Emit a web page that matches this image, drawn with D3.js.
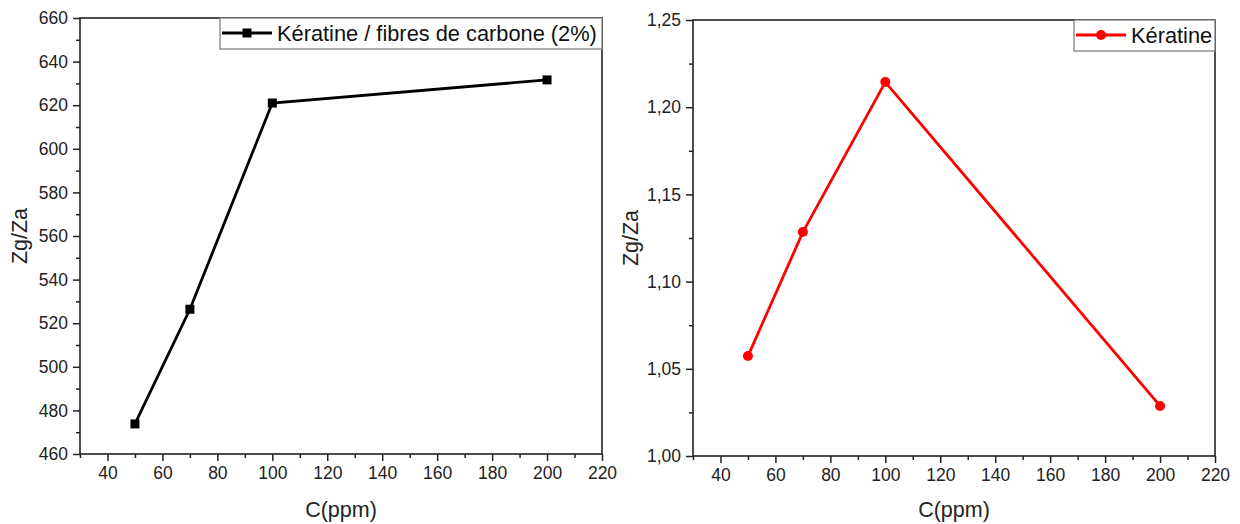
<!DOCTYPE html>
<html>
<head>
<meta charset="utf-8">
<script src="https://cdn.jsdelivr.net/npm/d3@7"></script>
<style>
  body { margin: 0; background: #fff; }
  svg { font-family: 'Liberation Sans', Arial, sans-serif; }
  .axis text { font-size: 17.5px; fill: #222; }
  .axis path { display: none; }
  .axis line { stroke: #222; stroke-width: 1.5; }
</style>
</head>
<body>
<div id="chart"></div>
<script>
// data
var concentrations = [50, 70, 100, 200]
var carbonValues = [473.8, 526.4, 621.0, 631.6]
var keratinValues = [1.0573, 1.1284, 1.2144, 1.0287]

var xMajorTicks = [40, 60, 80, 100, 120, 140, 160, 180, 200, 220]
var xMinorTicks = [30, 50, 70, 90, 110, 130, 150, 170, 190, 210]
var yLeftMajor = [460, 480, 500, 520, 540, 560, 580, 600, 620, 640, 660]
var yLeftMinor = [470, 490, 510, 530, 550, 570, 590, 610, 630, 650]
var yRightMajor = [1.0, 1.05, 1.1, 1.15, 1.2, 1.25]
var yRightMinor = [1.025, 1.075, 1.125, 1.175, 1.225]

var legendCarbon = 'Kératine / fibres de carbone (2%)'
var legendKeratin = 'Kératine'

var svg = d3.select('#chart')
  .append('svg')
  .attr('width', 1240)
  .attr('height', 524)

var frLocale = d3.formatLocale({ decimal: ',', thousands: ' ', grouping: [3], currency: ['', '€'] })

function drawPanel(opts) {
  var x = d3.scaleLinear().domain([30, 220]).range([opts.left, opts.right])
  var y = d3.scaleLinear().domain(opts.yDomain).range([opts.bottom, opts.top])

  var g = svg.append('g')

  // minor ticks
  g.append('g')
    .attr('class', 'axis')
    .attr('transform', 'translate(0,' + opts.bottom + ')')
    .call(d3.axisBottom(x).tickValues(xMinorTicks).tickSize(4).tickFormat(''))
  g.append('g')
    .attr('class', 'axis')
    .attr('transform', 'translate(' + opts.left + ',0)')
    .call(d3.axisLeft(y).tickValues(opts.yMinor).tickSize(4).tickFormat(''))

  // major ticks
  g.append('g')
    .attr('class', 'axis')
    .attr('transform', 'translate(0,' + opts.bottom + ')')
    .call(d3.axisBottom(x).tickValues(xMajorTicks).tickSize(7).tickPadding(6).tickFormat(d3.format('d')))
  g.append('g')
    .attr('class', 'axis')
    .attr('transform', 'translate(' + opts.left + ',0)')
    .call(d3.axisLeft(y).tickValues(opts.yMajor).tickSize(7).tickPadding(5).tickFormat(opts.yFormat))

  // frame
  g.append('rect')
    .attr('x', opts.left)
    .attr('y', opts.top)
    .attr('width', opts.right - opts.left)
    .attr('height', opts.bottom - opts.top)
    .attr('fill', 'none')
    .attr('stroke', '#222')
    .attr('stroke-width', 1.6)

  // axis titles
  g.append('text')
    .attr('x', (opts.left + opts.right) / 2)
    .attr('y', 517)
    .attr('text-anchor', 'middle')
    .attr('font-size', '21.5px')
    .attr('fill', '#222')
    .text('C(ppm)')
  g.append('text')
    .attr('transform', 'translate(' + opts.yTitleX + ',' + (opts.top + opts.bottom) / 2 + ') rotate(-90)')
    .attr('text-anchor', 'middle')
    .attr('font-size', '21.5px')
    .attr('fill', '#222')
    .text('Zg/Za')

  var points = concentrations.map(function(c, i) {
    return { c: c, v: opts.values[i] }
  })

  var line = d3.line()
    .x(function(d) { return x(d.c) })
    .y(function(d) { return y(d.v) })

  g.append('path')
    .datum(points)
    .attr('d', line)
    .attr('fill', 'none')
    .attr('stroke', opts.color)
    .attr('stroke-width', 2.8)

  if (opts.marker === 'square') {
    g.selectAll('.pt')
      .data(points)
      .enter()
      .append('rect')
      .attr('x', function(d) { return x(d.c) - 4.5 })
      .attr('y', function(d) { return y(d.v) - 4.5 })
      .attr('width', 9)
      .attr('height', 9)
      .attr('fill', opts.color)
  } else {
    g.selectAll('.pt')
      .data(points)
      .enter()
      .append('circle')
      .attr('cx', function(d) { return x(d.c) })
      .attr('cy', function(d) { return y(d.v) })
      .attr('r', 5)
      .attr('fill', opts.color)
  }

  // legend
  var lg = g.append('g')
  lg.append('rect')
    .attr('x', opts.legendX)
    .attr('y', opts.top)
    .attr('width', opts.right - opts.legendX)
    .attr('height', 31)
    .attr('fill', '#fff')
    .attr('stroke', '#777')
    .attr('stroke-width', 1.2)
  var ly = opts.top + 15
  lg.append('line')
    .attr('x1', opts.legendX + 2)
    .attr('x2', opts.legendX + 52)
    .attr('y1', ly)
    .attr('y2', ly)
    .attr('stroke', opts.color)
    .attr('stroke-width', 2.8)
  if (opts.marker === 'square') {
    lg.append('rect')
      .attr('x', opts.legendX + 27 - 4.5)
      .attr('y', ly - 4.5)
      .attr('width', 9)
      .attr('height', 9)
      .attr('fill', opts.color)
  } else {
    lg.append('circle')
      .attr('cx', opts.legendX + 27)
      .attr('cy', ly)
      .attr('r', 5)
      .attr('fill', opts.color)
  }
  lg.append('text')
    .attr('x', opts.legendX + 57)
    .attr('y', ly + 7.5)
    .attr('font-size', '21.8px')
    .attr('fill', '#111')
    .text(opts.legend)
}

drawPanel({
  left: 80, right: 602, top: 18, bottom: 454,
  yDomain: [460, 660], yMajor: yLeftMajor, yMinor: yLeftMinor,
  yFormat: d3.format('d'),
  values: carbonValues, color: '#000', marker: 'square',
  legend: legendCarbon, legendX: 220, yTitleX: 27
})

drawPanel({
  left: 693, right: 1215, top: 20, bottom: 456,
  yDomain: [1.0, 1.25], yMajor: yRightMajor, yMinor: yRightMinor,
  yFormat: frLocale.format('.2f'),
  values: keratinValues, color: '#ff0000', marker: 'circle',
  legend: legendKeratin, legendX: 1074, yTitleX: 638
})
</script>
</body>
</html>
